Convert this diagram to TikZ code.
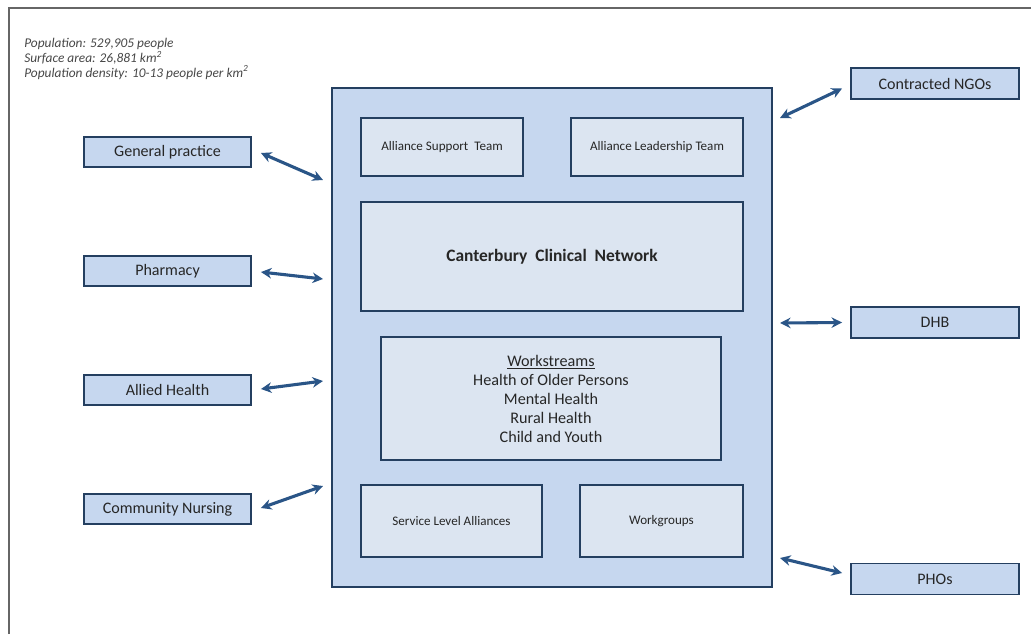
\documentclass[tikz,border=0pt]{standalone}
\usepackage{fontspec}
\setmainfont{Carlito}
\usetikzlibrary{arrows.meta}

\definecolor{navy}{HTML}{243F60}
\definecolor{arrowblue}{HTML}{2A5587}
\definecolor{outerfill}{HTML}{C6D7EF}
\definecolor{innerfill}{HTML}{DCE5F1}
\definecolor{txt}{HTML}{262626}

\begin{document}
\begin{tikzpicture}[x=0.025cm, y=-0.025cm,
		box/.style={draw=navy, line width=1.3pt, fill=outerfill, text=txt, inner sep=0pt, font=\fontsize{11.4}{13}\selectfont},
		inbox/.style={box, fill=innerfill, font=\fontsize{9.3}{11}\selectfont},
		link/.style={arrowblue, line width=2.2pt, {Stealth[length=7.5pt,width=7.5pt]}-{Stealth[length=7.5pt,width=7.5pt]}}]
			\useasboundingbox (0, 0) rectangle (1034, 634);
			\draw[gray!80!black, line width=1.5pt] (9, 634) -- (9, 8) -- (1031, 8);
			
			\node[anchor=north west, align=left, text=txt!85, font=\fontsize{9.5}{10.6}\selectfont\itshape, inner sep=0pt] (info) at (24, 38)
				{Population: 529,905 people\\ Surface area: 26,881 km\textsuperscript{2}\\ Population density: 10-13 people per km\textsuperscript{2}};
			
			\node[box, minimum width=11cm, minimum height=12.475cm] (main) at (552, 337.5) {};
			\node[inbox, minimum width=4.05cm, minimum height=1.45cm] (ast) at (442, 147) {Alliance Support\ \ Team};
			\node[inbox, minimum width=4.3cm, minimum height=1.45cm] (alt) at (657, 147) {Alliance Leadership Team};
			\node[inbox, minimum width=9.55cm, minimum height=2.725cm, font=\fontsize{12.4}{14}\selectfont\bfseries] (ccn) at (552, 256.5) {Canterbury\ \ Clinical\ \ Network};
			\node[inbox, minimum width=8.5cm, minimum height=3.075cm, align=center, font=\fontsize{11.5}{13.5}\selectfont] (ws) at (551, 398.5)
				{\underline{Workstreams}\\ Health of Older Persons\\ Mental Health\\ Rural Health\\ Child and Youth};
			\node[inbox, minimum width=4.525cm, minimum height=1.8cm] (sla) at (451.5, 521) {Service Level Alliances};
			\node[inbox, minimum width=4.075cm, minimum height=1.8cm] (wg) at (661.5, 521) {Workgroups};
			
			\node[box, minimum width=4.175cm, minimum height=0.75cm] (gp) at (167.5, 152) {General practice};
			\node[box, minimum width=4.175cm, minimum height=0.75cm] (ph) at (167.5, 271) {Pharmacy};
			\node[box, minimum width=4.175cm, minimum height=0.75cm] (ah) at (167.5, 390) {Allied Health};
			\node[box, minimum width=4.175cm, minimum height=0.75cm] (cn) at (167.5, 509) {Community Nursing};
			\node[box, minimum width=4.2cm, minimum height=0.775cm] (ngo) at (935, 83.5) {Contracted NGOs};
			\node[box, minimum width=4.2cm, minimum height=0.775cm] (dhb) at (935, 322.5) {DHB};
			\node[box, minimum width=4.2cm, minimum height=0.775cm] (pho) at (935, 579) {PHOs};
			
			\coordinate (gpend) at (323, 180);
			\coordinate (phend) at (323, 279);
			\coordinate (ahend) at (323, 381);
			\coordinate (cnend) at (323, 486);
			\coordinate (ngoend) at (780, 118);
			\coordinate (dhbend) at (780, 323);
			\coordinate (phoend) at (780, 558);
			
			\draw[link] ([shift={(9, 1)}]gp.east) -- (gpend);
			\draw[link] ([shift={(9, 1)}]ph.east) -- (phend);
			\draw[link] ([shift={(9, -1)}]ah.east) -- (ahend);
			\draw[link] ([shift={(9, -1)}]cn.east) -- (cnend);
			\draw[link] ([shift={(-8, 5)}]ngo.west) -- (ngoend);
			\draw[link] ([shift={(-8, 0)}]dhb.west) -- (dhbend);
			\draw[link] ([shift={(-8, -6)}]pho.west) -- (phoend);
		\end{tikzpicture}
\end{document}
